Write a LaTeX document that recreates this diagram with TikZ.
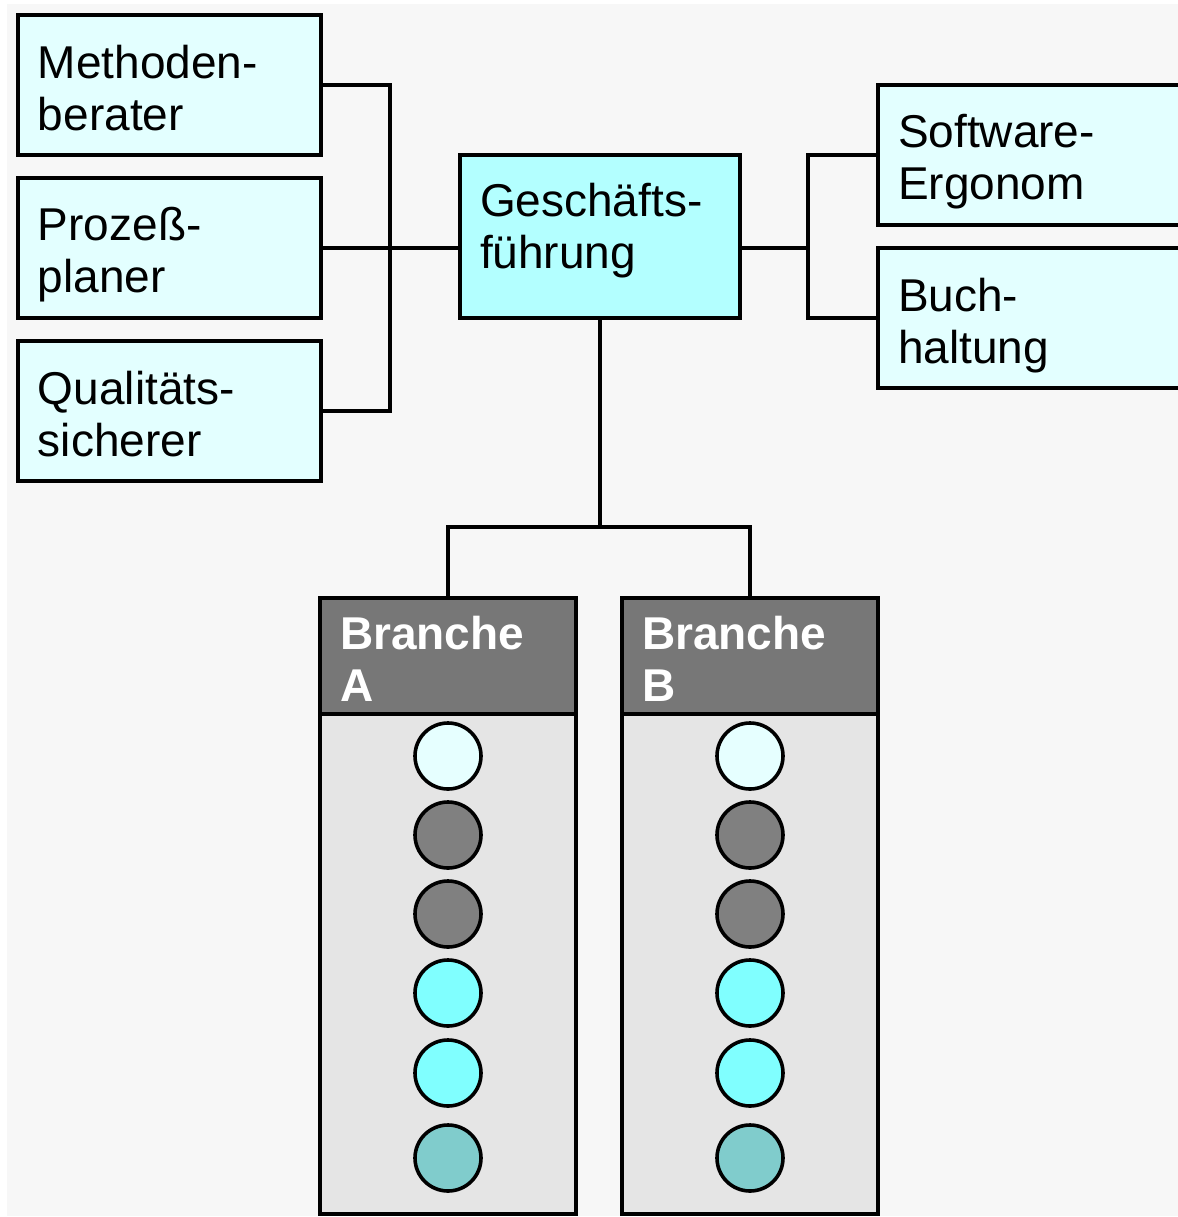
\documentclass[tikz,border=0pt]{standalone}
\usepackage{fontspec}
\setmainfont{Liberation Sans}
\definecolor{pagebg}{HTML}{F7F7F7}
\definecolor{rolefill}{HTML}{E3FFFF}
\definecolor{headfill}{HTML}{B3FFFF}
\definecolor{branchhead}{HTML}{777777}
\definecolor{branchbody}{HTML}{E5E5E5}
\definecolor{dotlight}{HTML}{E6FFFF}
\definecolor{dotgray}{HTML}{808080}
\definecolor{dotcyan}{HTML}{80FFFF}
\definecolor{dotteal}{HTML}{80CCCC}
\begin{document}
\begin{tikzpicture}[x=0.5pt,y=-0.5pt,line width=1.8pt,
  every node/.style={outer sep=0pt},
  rolebox/.style={draw=black,fill=rolefill,rectangle,inner sep=0pt,anchor=north west,
    minimum width=151.5pt,minimum height=70pt},
  txt/.style={anchor=north west,inner sep=0pt,align=left,
    font=\fontsize{23pt}{26pt}\selectfont},
  headtxt/.style={txt,text=white,font=\fontsize{23pt}{26pt}\selectfont\bfseries},
  headbox/.style={draw=black,fill=branchhead,rectangle,inner sep=0pt,anchor=north west,
    minimum width=128pt,minimum height=58pt},
  bodybox/.style={draw=black,fill=branchbody,rectangle,inner sep=0pt,anchor=north west,
    minimum width=128pt,minimum height=250pt},
  dot/.style={draw=black,circle,inner sep=0pt,minimum size=33pt},
  wire/.style={draw=black,line width=1.8pt}]
\useasboundingbox (0,0) rectangle (1178,1217);
\clip (0,0) rectangle (1178,1217);
\fill[pagebg] (7,4) rectangle (1178,1216);

% staff positions on the left
\node[rolebox] (meth) at (18,15) {};
\node[txt] at ([shift={(20,30)}]meth.north west) {Methoden-\\berater};
\node[rolebox] (proz) at (18,178) {};
\node[txt] at ([shift={(20,29)}]proz.north west) {Prozeß-\\planer};
\node[rolebox] (qual) at (18,341) {};
\node[txt] at ([shift={(20,30)}]qual.north west) {Qualitäts-\\sicherer};

% management
\node[draw=black,fill=headfill,rectangle,inner sep=0pt,anchor=north west,
  minimum width=140pt,minimum height=81.5pt] (gf) at (460,155) {};
\node[txt] at ([shift={(20,28)}]gf.north west) {Geschäfts-\\führung};

% staff positions on the right
\node[rolebox,minimum width=170pt] (soft) at (878,85) {};
\node[txt] at ([shift={(20,29)}]soft.north west) {Software-\\Ergonom};
\node[rolebox,minimum width=170pt] (buch) at (878,248) {};
\node[txt] at ([shift={(20,30)}]buch.north west) {Buch-\\haltung};

% left bracket
\coordinate (jl) at (390,248);
\draw[wire] (meth.east) -| (jl);
\draw[wire] (qual.east) -| (jl);
\draw[wire] (proz.east) -- (proz.east -| gf.west);

% right bracket
\coordinate (jr) at (808,248);
\draw[wire] (jr -| gf.east) -- (jr);
\draw[wire] (soft.west) -| (jr);
\draw[wire] (buch.west) -| (jr);

% branches
\node[bodybox] (bodyA) at (320,714) {};
\node[headbox] (headA) at (320,598) {};
\node[headtxt] at ([shift={(20,18)}]headA.north west) {Branche\\A};
\node[bodybox] (bodyB) at (622,714) {};
\node[headbox] (headB) at (622,598) {};
\node[headtxt] at ([shift={(20,18)}]headB.north west) {Branche\\B};

\coordinate (jb) at (600,527);
\draw[wire] (gf.south) -- (jb);
\draw[wire] (headA.north) |- (jb);
\draw[wire] (headB.north) |- (jb);

% member dots
\foreach \br/\cx in {A/448,B/750}{
  \node[dot,fill=dotlight] (d1\br) at (\cx,756) {};
  \node[dot,fill=dotgray]  (d2\br) at (\cx,835) {};
  \node[dot,fill=dotgray]  (d3\br) at (\cx,914) {};
  \node[dot,fill=dotcyan]  (d4\br) at (\cx,993) {};
  \node[dot,fill=dotcyan]  (d5\br) at (\cx,1073) {};
  \node[dot,fill=dotteal]  (d6\br) at (\cx,1158) {};
}
\end{tikzpicture}
\end{document}
